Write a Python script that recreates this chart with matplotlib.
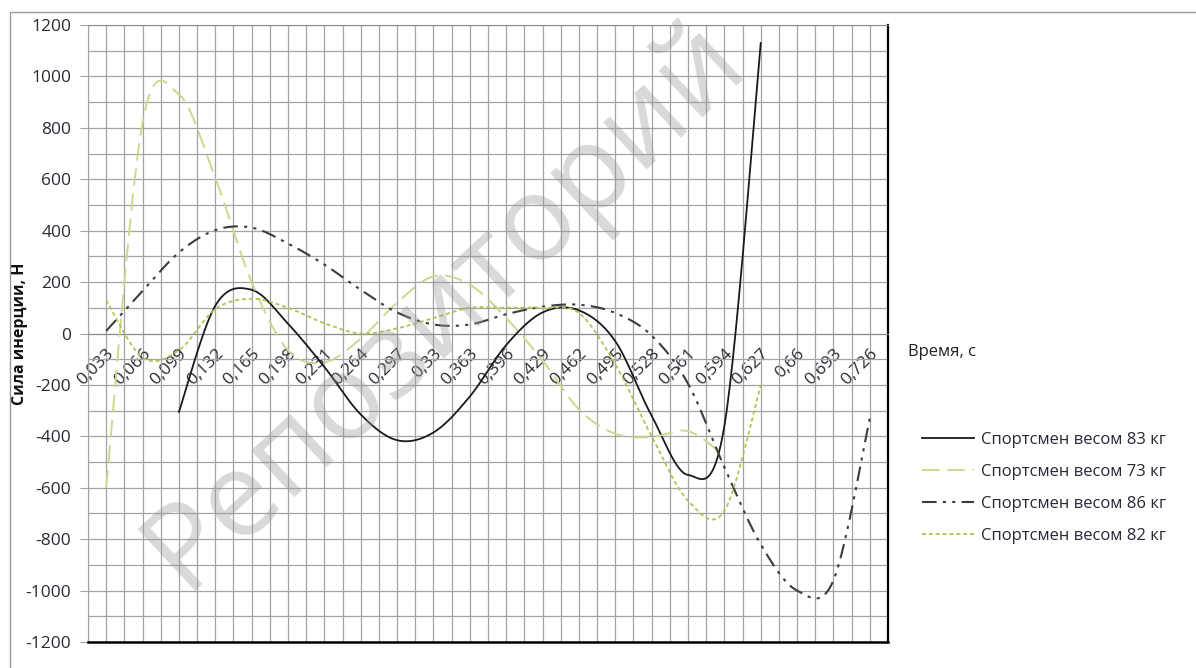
import numpy as np
import matplotlib
matplotlib.use("Agg")
import matplotlib.pyplot as plt
from matplotlib.patches import Rectangle

plt.rcParams['font.family'] = ['Open Sans', 'DejaVu Sans']

# ---------------- data ----------------
time_s = [0.033, 0.066, 0.099, 0.132, 0.165, 0.198, 0.231, 0.264, 0.297, 0.33, 0.363,
          0.396, 0.429, 0.462, 0.495, 0.528, 0.561, 0.594, 0.627, 0.66, 0.693, 0.726]
time_labels = ["0,033", "0,066", "0,099", "0,132", "0,165", "0,198", "0,231", "0,264",
               "0,297", "0,33", "0,363", "0,396", "0,429", "0,462", "0,495", "0,528",
               "0,561", "0,594", "0,627", "0,66", "0,693", "0,726"]
nan = np.nan
force_83 = [nan, nan, -305, 108, 170, 38, -130, -315, -415, -385, -245, -45, 82, 90,
            -30, -320, -550, -360, 1130, nan, nan, nan]
force_73 = [-600, 820, 930, 605, 200, -65, -112, -20, 120, 222, 190, 60, -105, -295,
            -390, -403, -380, -475, nan, nan, nan, nan]
force_86 = [10, 165, 315, 402, 412, 350, 268, 170, 82, 35, 35, 75, 104, 112, 80, -8,
            -195, -520, -820, -1000, -960, -330]
force_82 = [130, -94, -65, 95, 135, 100, 40, 0, 20, 60, 100, 100, 100, 80, -120, -400,
            -650, -690, -200, nan, nan, nan]
series_names = ["Спортсмен весом 83 кг", "Спортсмен весом 73 кг",
                "Спортсмен весом 86 кг", "Спортсмен весом 82 кг"]
y_ticks = [-1200, -1000, -800, -600, -400, -200, 0, 200, 400, 600, 800, 1000, 1200]


def excel_smooth(x, y, n=30):
    """Excel-like smoothed line (Bezier through the points)."""
    x = np.asarray(x, float)
    y = np.asarray(y, float)
    ok = ~np.isnan(y)
    xs, ys = x[ok], y[ok]
    m = len(xs)
    outx, outy = [], []
    s = np.linspace(0, 1, n)
    for i in range(m - 1):
        x0, y0, x1, y1 = xs[i], ys[i], xs[i + 1], ys[i + 1]
        xp, yp = (xs[i - 1], ys[i - 1]) if i > 0 else (x0, y0)
        xn, yn = (xs[i + 2], ys[i + 2]) if i + 2 < m else (x1, y1)
        c1x, c1y = x0 + (x1 - xp) / 6, y0 + (y1 - yp) / 6
        c2x, c2y = x1 - (xn - x0) / 6, y1 - (yn - y0) / 6
        bx = (1 - s) ** 3 * x0 + 3 * (1 - s) ** 2 * s * c1x + 3 * (1 - s) * s ** 2 * c2x + s ** 3 * x1
        by = (1 - s) ** 3 * y0 + 3 * (1 - s) ** 2 * s * c1y + 3 * (1 - s) * s ** 2 * c2y + s ** 3 * y1
        outx.extend(bx if i == 0 else bx[1:])
        outy.extend(by if i == 0 else by[1:])
    return np.array(outx), np.array(outy)


W, H = 1196, 668
fig = plt.figure(figsize=(W / 100, H / 100), dpi=100)
fig.patch.set_facecolor('white')

# outer chart border
fig.add_artist(Rectangle((10 / W, -0.1), 1.2, 1 - 12 / H + 0.1, transform=fig.transFigure,
                         fill=False, edgecolor='#9a9a9a', lw=1.0))

ax = fig.add_axes([88 / W, 1 - 642 / H, 800 / W, 617 / H])
ax.spines['bottom'].set_position(('data', 0))
ax.spines['bottom'].set_color('#8c8c8c')
ax.spines['left'].set_color('#a3a3a3')
ax.spines['top'].set_color('#8c8c8c')
ax.spines['right'].set_color('black')
ax.spines['right'].set_linewidth(1.6)

step = time_s[0] / 2
ax.set_xlim(step, time_s[-1] + step)
ax.set_ylim(-1200, 1200)

grid_c = '#a3a3a3'
ax.set_xticks(time_s)
ax.set_xticks([step * (2 * i + 1) for i in range(len(time_s) + 1)], minor=True)
ax.set_yticks(y_ticks)
ax.set_yticks(np.arange(-1100, 1200, 200), minor=True)
ax.grid(which='both', color=grid_c, lw=0.9)
ax.set_axisbelow(True)

ax.set_xticklabels(time_labels, fontsize=12.5, color='#2a2a35')
for lab in ax.get_xticklabels():
    lab.set_rotation(45)
    lab.set_ha('right')
    lab.set_va('top')
    lab.set_rotation_mode('anchor')
ax.set_yticklabels([str(v) for v in y_ticks], fontsize=12.5, color='#2a2a35')
ax.tick_params(axis='x', which='both', length=0, pad=9)
ax.tick_params(axis='y', which='major', length=6, color=grid_c, pad=6)
ax.tick_params(axis='y', which='minor', length=0)

ax.plot([0, 1], [0, 0], transform=ax.transAxes, color='black', lw=1.8, clip_on=False, zorder=5)

styles = [
    dict(color='#1a1a1a', lw=1.3, ls='-'),
    dict(color='#c9d98e', lw=1.4, ls=(0, (9, 4))),
    dict(color='#3c3c3c', lw=1.5, ls=(0, (7, 3, 1.5, 3, 1.5, 3))),
    dict(color='#a9c94e', lw=1.3, ls=(0, (2.2, 1.6))),
]
for vals, name, st in zip([force_83, force_73, force_86, force_82], series_names, styles):
    sx, sy = excel_smooth(time_s, vals)
    ax.plot(sx, sy, label=name, zorder=3, **st)

ax.set_ylabel("Сила инерции, Н", fontsize=11.5, fontweight='bold', color='#111111')
ax.yaxis.set_label_coords(-60 / 800, 0.5)
fig.text(908 / W, 1 - 352 / H, "Время, с", fontsize=12, color='#222222', va='center', ha='left')

leg = fig.legend(loc='upper left', bbox_to_anchor=(922 / W, 1 - 432 / H), frameon=False,
                 fontsize=12, handlelength=3.1, handletextpad=0.45, labelspacing=0.95,
                 borderaxespad=0, borderpad=0)
for t in leg.get_texts():
    t.set_color('#2a2535')

# watermark
fig.text(445 / W, 1 - 305 / H, "Репозиторий", fontsize=86, rotation=43, color='#9a9a9a',
         alpha=0.38, ha='center', va='center', zorder=10)

fig.savefig("out.png", dpi=100)
